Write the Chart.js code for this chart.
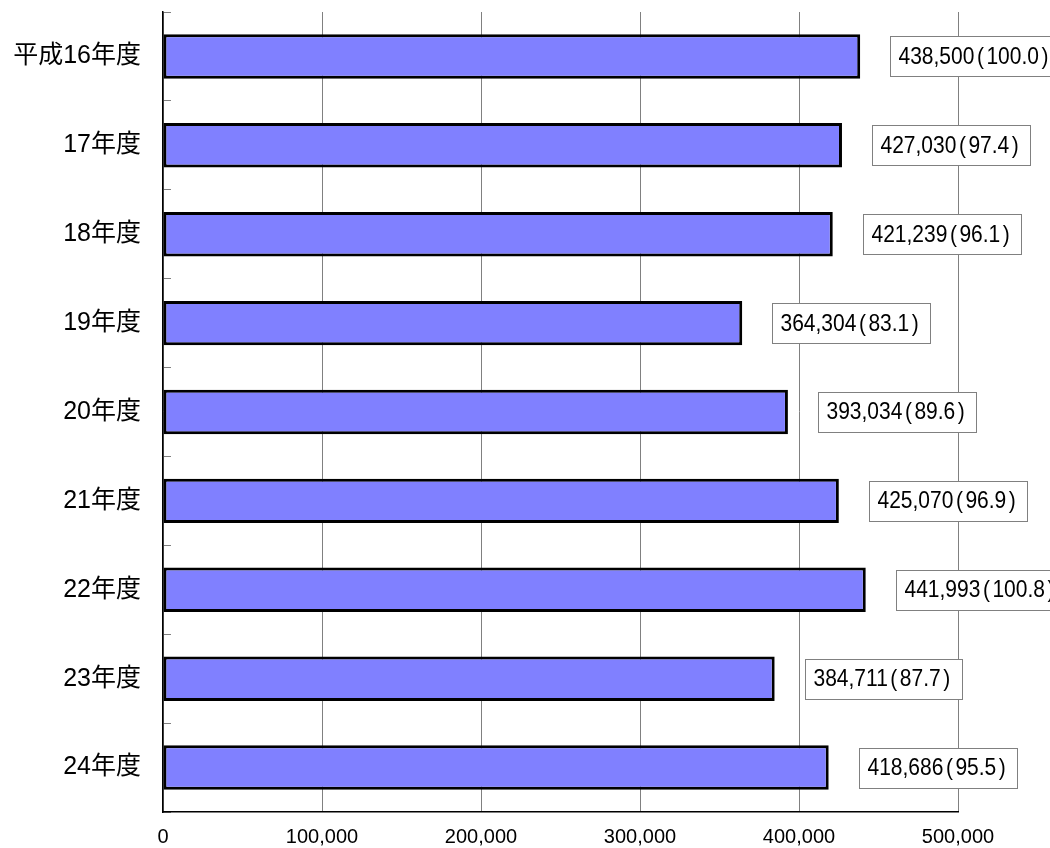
<!DOCTYPE html>
<html>
<head>
<meta charset="utf-8">
<script src="https://cdn.jsdelivr.net/npm/chart.js@4/dist/chart.umd.min.js"></script>
<style>
  html, body { margin: 0; padding: 0; background: #fff; }
  #wrap { width: 1050px; height: 848px; }
</style>
</head>
<body>
<div id="wrap"><canvas id="barChart" width="1050" height="848"></canvas></div>
<script>
const categories = ['平成16年度', '17年度', '18年度', '19年度', '20年度', '21年度', '22年度', '23年度', '24年度'];
const values = [438500, 427030, 421239, 364304, 393034, 425070, 441993, 384711, 418686];
const indexValues = [100.0, 97.4, 96.1, 83.1, 89.6, 96.9, 100.8, 87.7, 95.5];
const xMax = 500000;
const xStep = 100000;

const FONT = '"Liberation Sans", Arial, "Noto Sans CJK JP", sans-serif';

// boxed value labels to the right of each bar
const boxLabels = {
  id: 'boxLabels',
  afterDatasetsDraw(chart) {
    const ctx = chart.ctx;
    const meta = chart.getDatasetMeta(0);
    const gap = 2.5;
    ctx.save();
    ctx.font = '21px ' + FONT;
    ctx.textBaseline = 'middle';
    ctx.textAlign = 'left';
    meta.data.forEach((bar, i) => {
      const parts = [values[i].toLocaleString('en-US'), '(', indexValues[i].toFixed(1), ')'];
      const widths = parts.map(p => ctx.measureText(p).width);
      const textW = widths.reduce((a, b) => a + b, 0) + gap * (parts.length - 1);
      const w = Math.round(textW + 20);
      const h = 40;
      const x = Math.round(bar.x + 30) + 0.5;
      const y = Math.round(bar.y - h / 2) + 0.5;
      ctx.fillStyle = '#ffffff';
      ctx.fillRect(x, y, w, h);
      ctx.strokeStyle = '#808080';
      ctx.lineWidth = 1;
      ctx.strokeRect(x, y, w, h);
      ctx.fillStyle = '#000000';
      let tx = x + 8;
      parts.forEach((p, k) => {
        ctx.save();
        ctx.translate(tx, bar.y + 1);
        ctx.scale(1, 1.12);
        ctx.fillText(p, 0, 0);
        ctx.restore();
        tx += widths[k] + gap;
      });
    });
    ctx.restore();
  }
};

new Chart(document.getElementById('barChart'), {
  type: 'bar',
  data: {
    labels: categories,
    datasets: [{
      data: values,
      backgroundColor: '#8080ff',
      borderColor: '#000000',
      borderWidth: 3,
      borderSkipped: false,
      barPercentage: 0.5,
      categoryPercentage: 1.0
    }]
  },
  options: {
    indexAxis: 'y',
    responsive: false,
    animation: false,
    layout: { padding: { top: 12, right: 92, left: 0, bottom: 0 } },
    plugins: { legend: { display: false }, tooltip: { enabled: false } },
    scales: {
      x: {
        min: 0,
        max: xMax,
        ticks: {
          stepSize: xStep,
          color: '#000',
          padding: 13,
          font: { family: FONT, size: 20 },
          callback: v => v.toLocaleString('en-US')
        },
        grid: { color: '#808080', lineWidth: 1, drawTicks: false },
        border: { color: '#000', width: 1.5 },
        afterFit: s => { s.height = 36; s.paddingLeft = 0; s.paddingRight = 0; }
      },
      y: {
        ticks: {
          color: '#000',
          padding: 30,
          font: { family: FONT, size: 25 }
        },
        grid: {
          offset: true,
          drawOnChartArea: false,
          drawTicks: true,
          tickLength: -8,
          color: '#808080'
        },
        border: { color: '#000', width: 1.5 },
        afterFit: s => { s.width = 163; s.paddingTop = 0; s.paddingBottom = 0; }
      }
    }
  },
  plugins: [boxLabels]
});
</script>
</body>
</html>
